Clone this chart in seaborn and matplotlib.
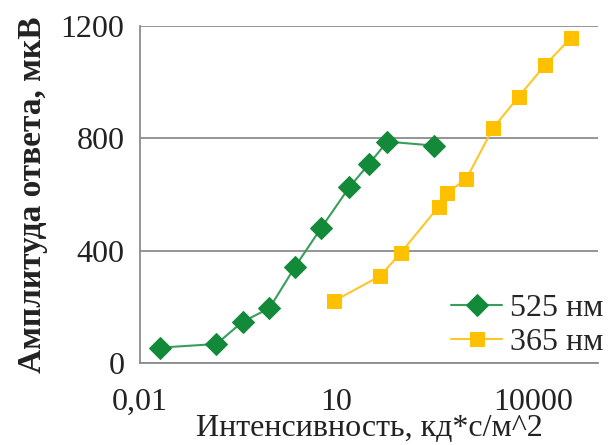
import numpy as np
import pandas as pd
import seaborn as sns
import matplotlib.pyplot as plt
from matplotlib.ticker import FixedLocator, NullLocator

# data
green_x = [0.02, 0.148, 0.37, 0.95, 2.35, 5.8, 15.7, 31.4, 60, 305]
green_y = [55, 68, 147, 195, 343, 479, 625, 708, 788, 774]
yellow_x = [9.25, 46.8, 97, 364, 490, 966, 2470, 6090, 15500, 38500]
yellow_y = [221, 310, 393, 556, 606, 655, 836, 948, 1061, 1158]
labels = ['525 нм', '365 нм']
x_ticks = [0.01, 10, 10000]
x_tick_labels = ['0,01', '10', '10000']
y_ticks = [0, 400, 800, 1200]

green = pd.DataFrame({'x': green_x, 'y': green_y})
yellow = pd.DataFrame({'x': yellow_x, 'y': yellow_y})

sns.set_style('white')
plt.rcParams['font.family'] = ['Liberation Serif', 'DejaVu Serif']

fig = plt.figure(figsize=(6.08, 4.45), dpi=100)
ax = fig.add_axes([0.230, 0.184, 0.754, 0.758])

sns.lineplot(data=green, x='x', y='y', ax=ax, color='#3a9e5a', lw=1.5,
             marker='D', markersize=11, markerfacecolor='#138a3a',
             markeredgecolor='#138a3a', label=labels[0])
sns.lineplot(data=yellow, x='x', y='y', ax=ax, color='#ffc629', lw=1.5,
             marker='s', markersize=9.5, markerfacecolor='#ffc000',
             markeredgecolor='#ffc000', label=labels[1])

ax.set_xscale('log')
ax.set_xlim(0.01, 1e5)
ax.set_ylim(0, 1200)
ax.xaxis.set_major_locator(FixedLocator(x_ticks))
ax.xaxis.set_minor_locator(NullLocator())
ax.set_xticklabels(x_tick_labels)
ax.set_yticks(y_ticks)
ax.yaxis.grid(True, color='#8c8c8c', lw=1.3)
ax.set_axisbelow(True)

for s in ['top', 'right']:
    ax.spines[s].set_visible(False)
for s in ['left', 'bottom']:
    ax.spines[s].set_color('#8c8c8c')
    ax.spines[s].set_linewidth(1.3)
ax.tick_params(axis='both', which='major', direction='out', length=8,
               width=1.3, color='#8c8c8c', labelsize=23, labelcolor='#222222')
ax.tick_params(axis='y', pad=3)
ax.tick_params(axis='x', length=6, pad=12)

ax.set_xlabel('Интенсивность, кд*с/м^2', fontsize=23, color='#222222', labelpad=-2)
ax.set_ylabel('Амплитуда ответа, мкВ', fontsize=24, fontweight='bold',
              color='#222222', labelpad=9)

ax.legend(loc='lower right', bbox_to_anchor=(1.04, -0.02), frameon=False,
          fontsize=23, handlelength=1.6, handletextpad=0.25, labelspacing=0.15,
          borderaxespad=0.0)

fig.savefig('out.png', dpi=100)
